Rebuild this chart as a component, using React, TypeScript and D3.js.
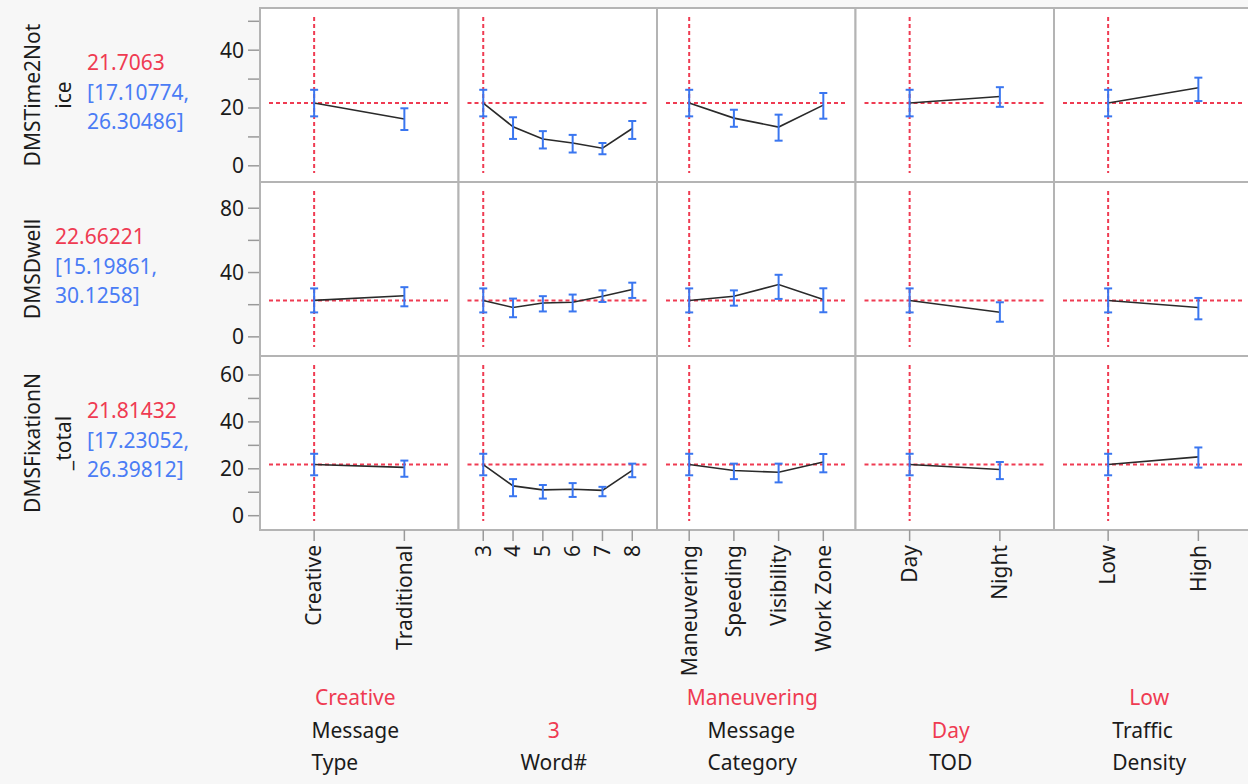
import { useEffect, useRef } from 'react';
import * as d3 from 'd3';

// factors (columns) and their levels
const factorNames = [['Message', 'Type'], ['Word#'], ['Message', 'Category'], ['TOD'], ['Traffic', 'Density']];
const factorLevels = [
  ['Creative', 'Traditional'],
  ['3', '4', '5', '6', '7', '8'],
  ['Maneuvering', 'Speeding', 'Visibility', 'Work Zone'],
  ['Day', 'Night'],
  ['Low', 'High'],
];
const currentLevels = ['Creative', '3', 'Maneuvering', 'Day', 'Low'];

// responses (rows)
const responseLabels = [['DMSTime2Not', 'ice'], ['DMSDwell'], ['DMSFixationN', '_total']];
const predicted = ['21.7063', '22.66221', '21.81432'];
const predictedCI = [
  ['[17.10774,', '26.30486]'],
  ['[15.19861,', '30.1258]'],
  ['[17.23052,', '26.39812]'],
];
const yDomains = [[-5.6, 54.6], [-11.9, 96.3], [-6.1, 68.1]];
const yMajorTicks = [[0, 20, 40], [0, 40, 80], [0, 20, 40, 60]];
const yMinorTicks = [[10, 30, 50], [20, 60], [10, 30, 50]];

// DMSTime2Notice
const time2NoticeMean = [[21.71, 16.2], [21.71, 13.5, 9.3, 7.9, 6.1, 12.9], [21.71, 16.5, 13.4, 21.0], [21.71, 24.0], [21.71, 27.0]];
const time2NoticeLow = [[17.11, 12.4], [17.11, 9.3, 6.0, 4.6, 4.0, 9.3], [17.11, 13.5, 8.7, 16.3], [17.11, 20.4], [17.11, 22.4]];
const time2NoticeHigh = [[26.3, 19.9], [26.3, 16.8, 12.0, 10.7, 7.9, 15.5], [26.3, 19.4, 17.7, 25.2], [26.3, 27.2], [26.3, 30.5]];

// DMSDwell
const dwellMean = [[22.66, 25.6], [22.66, 18.3, 21.1, 21.5, 25.3, 29.5], [22.66, 25.3, 32.5, 23.2], [22.66, 15.3], [22.66, 18.3]];
const dwellLow = [[15.2, 19.0], [15.2, 12.2, 15.8, 15.8, 21.7, 24.2], [15.2, 19.4, 23.6, 15.3], [15.2, 9.4], [15.2, 10.9]];
const dwellHigh = [[30.13, 30.9], [30.13, 23.8, 25.3, 26.3, 28.9, 33.7], [30.13, 28.9, 38.6, 30.2], [30.13, 21.5], [30.13, 24.2]];

// DMSFixationN_total
const fixationMean = [[21.81, 20.6], [21.81, 12.7, 11.0, 11.3, 10.8, 19.3], [21.81, 19.3, 18.5, 22.9], [21.81, 19.7], [21.81, 25.1]];
const fixationLow = [[17.23, 16.6], [17.23, 8.3, 7.3, 8.0, 8.3, 16.4], [17.23, 15.6, 14.2, 18.5], [17.23, 15.6], [17.23, 20.5]];
const fixationHigh = [[26.4, 23.5], [26.4, 15.6, 13.1, 13.9, 12.3, 22.2], [26.4, 22.2, 22.2, 26.3], [26.4, 22.9], [26.4, 29.1]];

const means = [time2NoticeMean, dwellMean, fixationMean];
const lows = [time2NoticeLow, dwellLow, fixationLow];
const highs = [time2NoticeHigh, dwellHigh, fixationHigh];
const predValues = [21.7063, 22.66221, 21.81432];

export default function App() {
  const svgRef = useRef<SVGSVGElement>(null);

  useEffect(() => {
    const W = 1248;
    const H = 784;
    const svg = d3.select(svgRef.current);
    svg.selectAll('*').remove();
    svg.attr('width', W).attr('height', H);

    const font = "'Segoe UI', 'Noto Sans', sans-serif";
    const red = '#ef3b52';
    const blue = '#3a76f0';
    const blueText = '#4a7cf5';
    const ink = '#1b1b1b';
    const frame = '#b4b4b4';

    svg.append('rect').attr('width', W).attr('height', H).attr('fill', '#f7f7f7');

    const x0 = 260;
    const panelW = 198.5;
    const y0 = 8;
    const rowH = 174;
    const pads = [0.6, 0.83, 0.72, 0.6, 0.6];

    const xScales = factorLevels.map((lv, c) =>
      d3.scalePoint<string>().domain(lv).range([x0 + c * panelW, x0 + (c + 1) * panelW]).padding(pads[c])
    );
    const yScales = yDomains.map((dom, r) =>
      d3.scaleLinear().domain(dom).range([y0 + (r + 1) * rowH, y0 + r * rowH])
    );

    // panels
    for (let r = 0; r < 3; r++) {
      for (let c = 0; c < 5; c++) {
        svg.append('rect')
          .attr('x', x0 + c * panelW)
          .attr('y', y0 + r * rowH)
          .attr('width', panelW)
          .attr('height', rowH)
          .attr('fill', '#fff')
          .attr('stroke', frame)
          .attr('stroke-width', 2);
      }
    }

    // row labels + y axes
    responseLabels.forEach((lines, r) => {
      const cy = y0 + r * rowH + rowH / 2;
      lines.forEach((t, i) => {
        svg.append('text')
          .attr('transform', `translate(${33 + i * 31},${cy}) rotate(-90)`)
          .attr('text-anchor', 'middle')
          .attr('dy', '0.35em')
          .attr('font-family', font)
          .attr('font-size', 21)
          .attr('fill', ink)
          .text(t);
      });
      const vx = lines.length > 1 ? 87 : 55;
      const offs = [-32, -2, 27];
      [predicted[r], ...predictedCI[r]].forEach((t, i) => {
        svg.append('text')
          .attr('x', vx)
          .attr('y', cy + offs[i])
          .attr('dy', '0.35em')
          .attr('font-family', font)
          .attr('font-size', 21)
          .attr('fill', i === 0 ? red : blueText)
          .text(t);
      });

      const y = yScales[r];
      const ax = svg.append('g');
      [...yMajorTicks[r], ...yMinorTicks[r]].forEach(v => {
        ax.append('line')
          .attr('x1', 248).attr('x2', 259)
          .attr('y1', y(v)).attr('y2', y(v))
          .attr('stroke', '#9a9a9a').attr('stroke-width', 1.5);
      });
      yMajorTicks[r].forEach(v => {
        ax.append('text')
          .attr('x', 244)
          .attr('y', y(v))
          .attr('dy', '0.35em')
          .attr('text-anchor', 'end')
          .attr('font-family', font)
          .attr('font-size', 21)
          .attr('fill', ink)
          .text(String(v));
      });
    });

    // profiles
    for (let r = 0; r < 3; r++) {
      const y = yScales[r];
      const top = y0 + r * rowH;
      for (let c = 0; c < 5; c++) {
        const x = xScales[c];
        const left = x0 + c * panelW;
        const g = svg.append('g');
        const dash = '4,3';
        g.append('line')
          .attr('x1', x(currentLevels[c])!).attr('x2', x(currentLevels[c])!)
          .attr('y1', top + 9).attr('y2', top + rowH - 9)
          .attr('stroke', red).attr('stroke-width', 2).attr('stroke-dasharray', dash);
        g.append('line')
          .attr('x1', left + 9).attr('x2', left + panelW - 9)
          .attr('y1', y(predValues[r])).attr('y2', y(predValues[r]))
          .attr('stroke', red).attr('stroke-width', 2).attr('stroke-dasharray', dash);

        const pts = factorLevels[c].map((lv, i) => ({
          lv,
          m: means[r][c][i],
          lo: lows[r][c][i],
          hi: highs[r][c][i],
        }));
        const line = d3.line<(typeof pts)[number]>().x(d => x(d.lv)!).y(d => y(d.m));
        g.append('path')
          .datum(pts)
          .attr('d', line)
          .attr('fill', 'none')
          .attr('stroke', '#2a2a2a')
          .attr('stroke-width', 1.6);

        const eb = g.selectAll('g.eb').data(pts).join('g').attr('class', 'eb');
        eb.append('line')
          .attr('x1', d => x(d.lv)!).attr('x2', d => x(d.lv)!)
          .attr('y1', d => y(d.lo)).attr('y2', d => y(d.hi))
          .attr('stroke', blue).attr('stroke-width', 2);
        eb.append('line')
          .attr('x1', d => x(d.lv)! - 4).attr('x2', d => x(d.lv)! + 4)
          .attr('y1', d => y(d.lo)).attr('y2', d => y(d.lo))
          .attr('stroke', blue).attr('stroke-width', 2);
        eb.append('line')
          .attr('x1', d => x(d.lv)! - 4).attr('x2', d => x(d.lv)! + 4)
          .attr('y1', d => y(d.hi)).attr('y2', d => y(d.hi))
          .attr('stroke', blue).attr('stroke-width', 2);
      }
    }

    // x ticks & labels under the bottom row
    const bottom = y0 + 3 * rowH;
    factorLevels.forEach((lv, c) => {
      const x = xScales[c];
      lv.forEach(l => {
        svg.append('line')
          .attr('x1', x(l)!).attr('x2', x(l)!)
          .attr('y1', bottom).attr('y2', bottom + 11)
          .attr('stroke', '#9a9a9a').attr('stroke-width', 1.5);
        svg.append('text')
          .attr('transform', `translate(${x(l)},${bottom + 15}) rotate(-90)`)
          .attr('text-anchor', 'end')
          .attr('dy', '0.35em')
          .attr('font-family', font)
          .attr('font-size', 21)
          .attr('fill', ink)
          .text(l);
      });

      // factor name block
      const cx = x0 + c * panelW + panelW / 2 - 4;
      const names = factorNames[c];
      const block = svg.append('g');
      const texts = names.map((t, i) =>
        block.append('text')
          .attr('y', 763 - (names.length - 1 - i) * 32)
          .attr('dy', '0.35em')
          .attr('font-family', font)
          .attr('font-size', 21)
          .attr('fill', ink)
          .text(t)
      );
      const widths = texts.map(t => (t.node() as SVGTextElement).getComputedTextLength());
      const bw = d3.max(widths) ?? 0;
      texts.forEach(t => t.attr('x', cx - bw / 2));
      svg.append('text')
        .attr('x', cx)
        .attr('y', 763 - names.length * 32.5)
        .attr('dy', '0.35em')
        .attr('text-anchor', 'middle')
        .attr('font-family', font)
        .attr('font-size', 21)
        .attr('fill', red)
        .text(currentLevels[c]);
    });
  }, []);

  return (
    <div style={{ position: 'fixed', left: 0, top: 0 }}>
      <svg ref={svgRef} />
    </div>
  );
}
